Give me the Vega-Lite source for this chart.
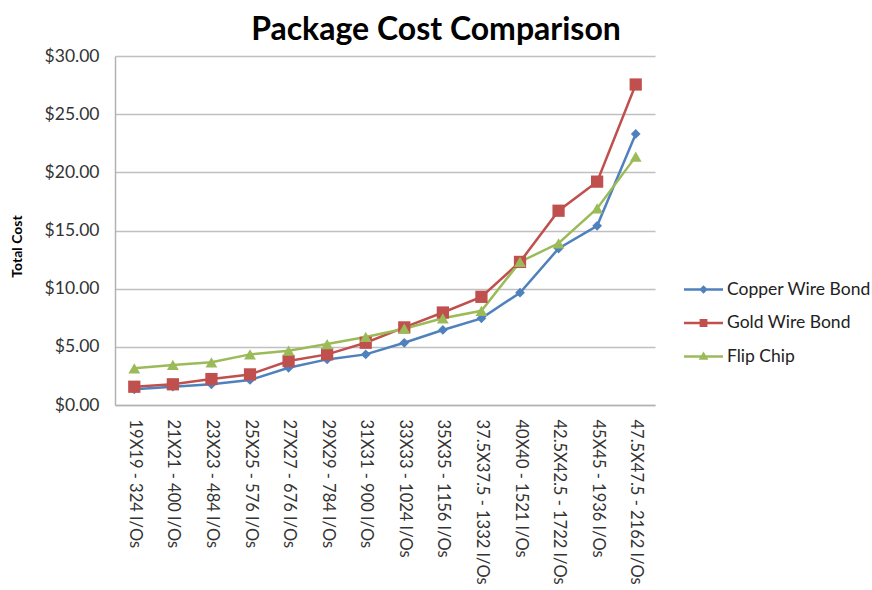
{
  "$schema": "https://vega.github.io/schema/vega-lite/v6.json",
  "width": 540,
  "height": 349,
  "autosize": {"type": "none"},
  "padding": {"left": 115, "top": 56, "right": 217, "bottom": 185},
  "background": "white",
  "title": {
    "text": "Package Cost Comparison",
    "font": "Lato",
    "fontSize": 32,
    "fontWeight": "bold",
    "color": "#000000",
    "anchor": "middle",
    "dx": 51,
    "offset": 0
  },
  "config": {
    "view": {"stroke": null},
    "font": "Lato",
    "axis": {"labelFont": "Lato", "titleFont": "Lato", "labelColor": "#333333", "titleColor": "#000000"},
    "legend": {"labelFont": "Lato"}
  },
  "data": {
    "values": [
      {"pkg": "19X19 - 324 I/Os", "series": "Copper Wire Bond", "cost": 1.35},
      {"pkg": "21X21 - 400 I/Os", "series": "Copper Wire Bond", "cost": 1.57},
      {"pkg": "23X23 - 484 I/Os", "series": "Copper Wire Bond", "cost": 1.78},
      {"pkg": "25X25 - 576 I/Os", "series": "Copper Wire Bond", "cost": 2.15},
      {"pkg": "27X27 - 676 I/Os", "series": "Copper Wire Bond", "cost": 3.2},
      {"pkg": "29X29 - 784 I/Os", "series": "Copper Wire Bond", "cost": 3.92},
      {"pkg": "31X31 - 900 I/Os", "series": "Copper Wire Bond", "cost": 4.35},
      {"pkg": "33X33 - 1024 I/Os", "series": "Copper Wire Bond", "cost": 5.35},
      {"pkg": "35X35 - 1156 I/Os", "series": "Copper Wire Bond", "cost": 6.45},
      {"pkg": "37.5X37.5 - 1332 I/Os", "series": "Copper Wire Bond", "cost": 7.45},
      {"pkg": "40X40 - 1521 I/Os", "series": "Copper Wire Bond", "cost": 9.65},
      {"pkg": "42.5X42.5 - 1722 I/Os", "series": "Copper Wire Bond", "cost": 13.45},
      {"pkg": "45X45 - 1936 I/Os", "series": "Copper Wire Bond", "cost": 15.4},
      {"pkg": "47.5X47.5 - 2162 I/Os", "series": "Copper Wire Bond", "cost": 23.3},
      {"pkg": "19X19 - 324 I/Os", "series": "Gold Wire Bond", "cost": 1.57},
      {"pkg": "21X21 - 400 I/Os", "series": "Gold Wire Bond", "cost": 1.78},
      {"pkg": "23X23 - 484 I/Os", "series": "Gold Wire Bond", "cost": 2.23},
      {"pkg": "25X25 - 576 I/Os", "series": "Gold Wire Bond", "cost": 2.63},
      {"pkg": "27X27 - 676 I/Os", "series": "Gold Wire Bond", "cost": 3.78},
      {"pkg": "29X29 - 784 I/Os", "series": "Gold Wire Bond", "cost": 4.35},
      {"pkg": "31X31 - 900 I/Os", "series": "Gold Wire Bond", "cost": 5.35},
      {"pkg": "33X33 - 1024 I/Os", "series": "Gold Wire Bond", "cost": 6.67},
      {"pkg": "35X35 - 1156 I/Os", "series": "Gold Wire Bond", "cost": 7.95},
      {"pkg": "37.5X37.5 - 1332 I/Os", "series": "Gold Wire Bond", "cost": 9.3},
      {"pkg": "40X40 - 1521 I/Os", "series": "Gold Wire Bond", "cost": 12.3},
      {"pkg": "42.5X42.5 - 1722 I/Os", "series": "Gold Wire Bond", "cost": 16.7},
      {"pkg": "45X45 - 1936 I/Os", "series": "Gold Wire Bond", "cost": 19.2},
      {"pkg": "47.5X47.5 - 2162 I/Os", "series": "Gold Wire Bond", "cost": 27.55},
      {"pkg": "19X19 - 324 I/Os", "series": "Flip Chip", "cost": 3.15},
      {"pkg": "21X21 - 400 I/Os", "series": "Flip Chip", "cost": 3.44},
      {"pkg": "23X23 - 484 I/Os", "series": "Flip Chip", "cost": 3.67},
      {"pkg": "25X25 - 576 I/Os", "series": "Flip Chip", "cost": 4.35},
      {"pkg": "27X27 - 676 I/Os", "series": "Flip Chip", "cost": 4.67},
      {"pkg": "29X29 - 784 I/Os", "series": "Flip Chip", "cost": 5.24},
      {"pkg": "31X31 - 900 I/Os", "series": "Flip Chip", "cost": 5.85},
      {"pkg": "33X33 - 1024 I/Os", "series": "Flip Chip", "cost": 6.56},
      {"pkg": "35X35 - 1156 I/Os", "series": "Flip Chip", "cost": 7.45},
      {"pkg": "37.5X37.5 - 1332 I/Os", "series": "Flip Chip", "cost": 8.1},
      {"pkg": "40X40 - 1521 I/Os", "series": "Flip Chip", "cost": 12.3},
      {"pkg": "42.5X42.5 - 1722 I/Os", "series": "Flip Chip", "cost": 13.9},
      {"pkg": "45X45 - 1936 I/Os", "series": "Flip Chip", "cost": 16.9},
      {"pkg": "47.5X47.5 - 2162 I/Os", "series": "Flip Chip", "cost": 21.35}
    ]
  },
  "encoding": {
    "x": {
      "field": "pkg",
      "type": "ordinal",
      "sort": null,
      "scale": {"type": "point", "padding": 0.5},
      "axis": {
        "title": null,
        "labelAngle": 90,
        "labelAlign": "left",
        "labelBaseline": "middle",
        "labelFontSize": 16.5,
        "labelPadding": 14,
        "ticks": false,
        "domainColor": "#b3b3b3",
        "domainWidth": 1.5,
        "grid": false,
        "labelOverlap": false
      }
    },
    "y": {
      "field": "cost",
      "type": "quantitative",
      "scale": {"domain": [0, 30], "nice": false},
      "axis": {
        "title": "Total Cost",
        "titleFontSize": 14,
        "titleFontWeight": "bold",
        "titlePadding": 20,
        "titleY": 190,
        "format": "$.2f",
        "values": [0, 5, 10, 15, 20, 25, 30],
        "labelFontSize": 17.5,
        "labelPadding": 16,
        "ticks": false,
        "domainColor": "#b3b3b3",
        "domainWidth": 1.5,
        "gridColor": "#c0c0c0",
        "gridWidth": 1.5
      }
    },
    "color": {
      "field": "series",
      "type": "nominal",
      "sort": ["Copper Wire Bond", "Gold Wire Bond", "Flip Chip"],
      "scale": {
        "domain": ["Copper Wire Bond", "Gold Wire Bond", "Flip Chip"],
        "range": ["#4f81bd", "#c0504d", "#9bbb59"]
      }
    }
  },
  "layer": [
    {
      "mark": {"type": "line", "strokeWidth": 2.5}
    },
    {
      "transform": [{"filter": "datum.series === 'Copper Wire Bond'"}],
      "mark": {"type": "point", "shape": "diamond", "filled": true, "opacity": 1, "size": 95}
    },
    {
      "transform": [{"filter": "datum.series === 'Gold Wire Bond'"}],
      "mark": {"type": "point", "shape": "square", "filled": true, "opacity": 1, "size": 150}
    },
    {
      "transform": [{"filter": "datum.series === 'Flip Chip'"}],
      "mark": {"type": "point", "shape": "triangle-up", "filled": true, "opacity": 1, "size": 140}
    },
    {
      "mark": {"type": "point", "filled": true, "opacity": 0},
      "encoding": {
        "shape": {
          "field": "series",
          "type": "nominal",
          "sort": ["Copper Wire Bond", "Gold Wire Bond", "Flip Chip"],
          "scale": {
            "domain": ["Copper Wire Bond", "Gold Wire Bond", "Flip Chip"],
            "range": [
              "M-1,-0.065H1V0.065H-1Z M0,-0.22L0.22,0L0,0.22L-0.22,0Z",
              "M-1,-0.065H1V0.065H-1Z M-0.2,-0.2H0.2V0.2H-0.2Z",
              "M-1,-0.065H1V0.065H-1Z M0,-0.26L0.25,0.17H-0.25Z"
            ]
          },
          "legend": {
            "title": null,
            "orient": "none",
            "legendX": 569,
            "legendY": 214,
            "symbolSize": 1521,
            "symbolOpacity": 1,
            "symbolStrokeWidth": 0,
            "labelFontSize": 17.5,
            "labelColor": "#222222",
            "labelOffset": 4,
            "rowPadding": 5.5,
            "padding": 0
          }
        }
      }
    }
  ]
}
